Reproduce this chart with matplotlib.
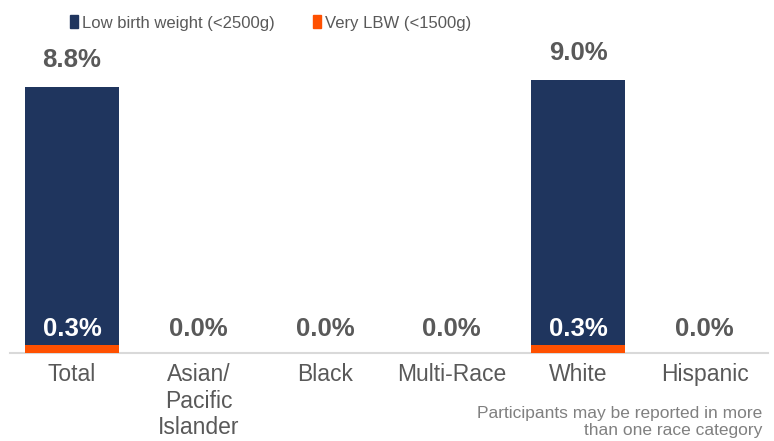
import numpy as np
import matplotlib.pyplot as plt
from matplotlib.patches import Patch

plt.rcParams["font.family"] = ["Liberation Sans", "DejaVu Sans"]

categories = ["Total", "Asian/\nPacific\nIslander", "Black", "Multi-Race", "White", "Hispanic"]
lbw = [8.8, 0.0, 0.0, 0.0, 9.04, 0.0]
vlbw = [0.27, 0.0, 0.0, 0.0, 0.27, 0.0]

navy = "#1F355E"
orange = "#FF5000"
grey = "#595959"

fig = plt.figure(figsize=(7.74, 4.41), dpi=100)
ax = fig.add_axes([0.0, 88 / 441, 1.0, 353 / 441])

x = np.arange(len(categories))
ax.bar(x, lbw, width=0.75, color=navy, zorder=2)
ax.bar(x, vlbw, width=0.75, color=orange, zorder=3)

ax.set_xlim(-0.569, 5.549)
ax.set_ylim(0, 11.69)

# labels above the low birth weight bars
for xi, v in zip(x, lbw):
    if v > 0:
        ax.annotate(f"{v:.1f}%", (xi, v), xytext=(0, 19.5), textcoords="offset points",
                    ha="center", va="center", fontsize=18.5, fontweight="bold", color=grey)

# very LBW labels sit near the base
for xi, v, big in zip(x, vlbw, lbw):
    col = "white" if big > 1 else grey
    ax.annotate(f"{v:.1f}%", (xi, 0), xytext=(0, 17.3), textcoords="offset points",
                ha="center", va="center", fontsize=18.5, fontweight="bold", color=col, zorder=4)

for s in ["top", "right", "left"]:
    ax.spines[s].set_visible(False)
ax.spines["bottom"].set_color("#D9D9D9")
ax.spines["bottom"].set_linewidth(1.5)
ax.spines["bottom"].set_bounds(-0.49, 5.5)
ax.set_yticks([])
ax.set_xticks(x)
ax.set_xticklabels(categories, fontsize=16.5, color=grey, linespacing=1.21)
ax.tick_params(axis="x", length=0, pad=7)

handles = [Patch(color=navy), Patch(color=orange)]
fig.legend(handles, ["Low birth weight (<2500g)", "Very LBW (<1500g)"],
           loc="center", bbox_to_anchor=(270.5 / 774, 1 - 23 / 441), ncol=2,
           frameon=False, labelcolor=grey, fontsize=12, handlelength=0.48,
           handleheight=0.78, handletextpad=0.24, columnspacing=2.3)

fig.text(762 / 774, 1 - 406 / 441, "Participants may be reported in more\nthan one race category",
         ha="right", va="top", fontsize=12.5, color="#808080", linespacing=1.15)

fig.savefig("out.png", dpi=100)
